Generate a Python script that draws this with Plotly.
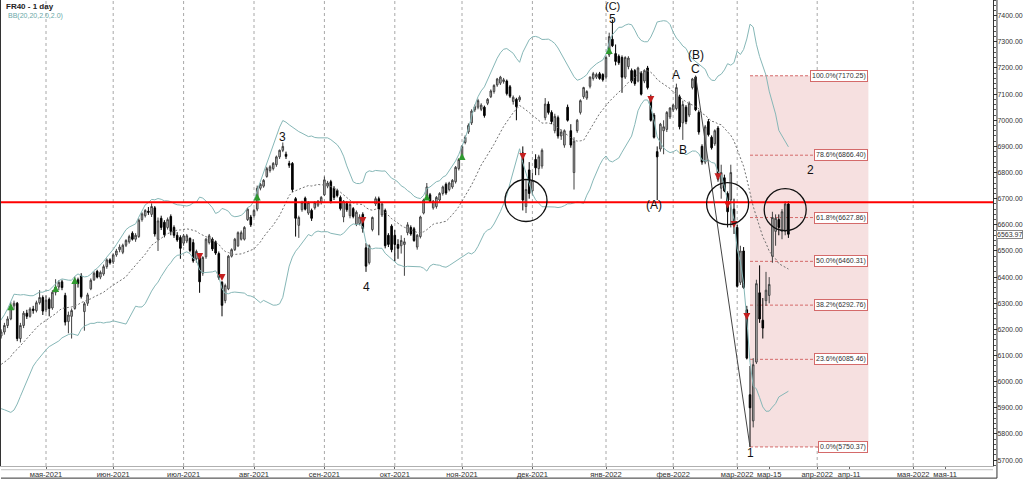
import numpy as np
import pandas as pd
import plotly.graph_objects as go

# ---------------- data ----------------
dates = pd.bdate_range("2021-04-12", "2022-03-23")

opens = [
 6190,6175,6190,6215,6240,6290,6300,6165,6215,6262,
 6250,6278,6272,6302,6322,6275,6315,6282,6342,6362,
 6382,6330,6230,6250,6280,6390,6405,6268,6300,6355,
 6390,6422,6400,6412,6440,6466,6458,6485,6505,6495,
 6522,6535,6568,6545,6555,6620,6635,6652,6640,6665,
 6545,6625,6610,6590,6632,6590,6560,6552,6530,6538,
 6548,6532,6470,6475,6415,6478,6532,6545,6535,6490,
 6380,6310,6355,6480,6505,6520,6545,6545,6620,6630,
 6635,6660,6740,6748,6785,6808,6815,6830,6860,6885,
 6870,6835,6835,6700,6598,6658,6702,6645,6655,6665,
 6675,6685,6715,6748,6765,6740,6730,6705,6630,6682,
 6635,6662,6602,6605,6640,6512,6455,6582,6680,6700,
 6638,6655,6560,6595,6560,6525,6520,6525,6570,6590,
 6585,6515,6555,6645,6710,6715,6665,6670,6695,6720,
 6755,6735,6745,6765,6815,6860,6915,6955,6990,7040,
 7050,7042,7050,7065,7090,7110,7135,7142,7148,7150,
 7128,7072,7080,7078,6875,6670,6810,6730,6850,6815,
 6825,7010,7062,7030,6960,7010,6940,6905,7050,6960,
 6800,6960,7030,7090,7085,7130,7160,7165,7178,7175,
 7165,7250,7310,7255,7245,7240,7165,7205,7190,7190,
 7150,7180,7150,7200,7090,7020,6880,6890,6960,6965,
 7013,7040,7045,7090,6990,7050,7020,7125,7165,7030,
 6900,6840,6995,6935,6910,6970,6740,6780,6720,6695,
 6660,6590,6380,6500,6275,5950,5850,6075,6340,6235,
 6310,6330,6480,6575,6620,6575,6575,6680]

highs = [
 6205,6200,6225,6250,6305,6310,6305,6225,6270,6275,
 6285,6290,6310,6350,6330,6330,6322,6350,6392,6388,
 6390,6340,6268,6280,6402,6398,6415,6305,6340,6395,
 6422,6428,6425,6448,6472,6472,6490,6508,6525,6528,
 6545,6562,6575,6568,6625,6648,6660,6668,6682,6672,
 6628,6635,6618,6628,6640,6598,6572,6560,6565,6565,
 6552,6545,6505,6480,6480,6550,6565,6552,6540,6498,
 6385,6375,6485,6510,6550,6575,6578,6595,6665,6638,
 6662,6750,6760,6775,6822,6828,6840,6865,6888,6915,
 6880,6845,6840,6706,6635,6692,6708,6690,6662,6690,
 6695,6710,6785,6768,6772,6748,6738,6712,6695,6690,
 6685,6668,6655,6640,6648,6530,6525,6632,6708,6708,
 6685,6662,6568,6602,6580,6545,6560,6550,6610,6598,
 6592,6565,6635,6700,6760,6722,6695,6710,6725,6750,
 6762,6765,6775,6825,6855,6905,6942,6988,7042,7060,
 7082,7065,7056,7085,7118,7138,7162,7170,7162,7156,
 7135,7095,7086,7095,6900,6775,6840,6800,6870,6868,
 6892,7085,7072,7038,7025,7018,6965,6965,7060,6985,
 6935,7005,7080,7128,7115,7168,7185,7182,7185,7180,
 7245,7335,7385,7290,7252,7248,7245,7245,7198,7196,
 7205,7188,7195,7208,7098,7028,6900,6990,7000,7035,
 7050,7062,7140,7098,7075,7058,7072,7162,7170.25,7038,
 6908,6982,7005,6942,6965,6978,6830,6792,6728,6830,
 6700,6600,6520,6515,6290,6060,6090,6390,6445,6320,
 6420,6400,6650,6640,6640,6660,6690,6690]

lows = [
 6160,6165,6180,6205,6235,6275,6155,6150,6205,6240,
 6245,6260,6265,6295,6255,6265,6250,6275,6330,6350,
 6350,6215,6185,6165,6275,6360,6318,6195,6290,6350,
 6385,6395,6392,6405,6432,6448,6450,6478,6495,6488,
 6515,6528,6540,6535,6550,6612,6628,6638,6630,6555,
 6500,6580,6552,6582,6560,6550,6535,6470,6520,6530,
 6495,6455,6455,6340,6405,6470,6525,6500,6485,6390,
 6250,6300,6350,6475,6500,6515,6540,6540,6615,6592,
 6628,6652,6732,6742,6780,6800,6808,6822,6852,6878,
 6852,6818,6725,6555,6550,6650,6655,6638,6615,6658,
 6668,6678,6710,6740,6682,6695,6705,6655,6610,6650,
 6625,6625,6595,6598,6570,6420,6448,6575,6672,6560,
 6630,6510,6515,6495,6460,6470,6490,6405,6560,6558,
 6535,6505,6548,6640,6705,6685,6658,6662,6688,6712,
 6715,6728,6738,6758,6808,6852,6908,6948,6982,7032,
 7042,7035,7010,7058,7085,7102,7128,7135,7140,7095,
 7085,7060,7000,7070,6655,6645,6700,6715,6790,6790,
 6815,7000,7022,6985,6950,6930,6925,6895,6995,6895,
 6735,6952,7022,7082,7078,7122,7152,7158,7155,7148,
 7158,7242,7280,7210,7212,7105,7158,7195,7142,7132,
 7145,7095,7142,7118,6995,6930,6695,6880,6870,6955,
 7005,7032,7038,6965,6925,6985,7012,7118,7035,6945,
 6830,6832,6938,6888,6902,6765,6700,6725,6590,6590,
 6565,6360,6370,6355,6085,5750.37,5825,6068,6225,6165,
 6290,6300,6455,6520,6560,6545,6560,6550]

closes = [
 6175,6190,6215,6240,6290,6300,6165,6215,6262,6250,
 6278,6272,6302,6322,6270,6312,6280,6342,6362,6380,
 6360,6228,6255,6272,6390,6375,6325,6298,6332,6388,
 6415,6400,6418,6440,6466,6455,6485,6500,6515,6522,
 6540,6555,6545,6560,6618,6642,6655,6648,6670,6565,
 6615,6590,6562,6620,6575,6560,6542,6510,6558,6558,
 6502,6462,6498,6382,6475,6545,6558,6508,6492,6398,
 6292,6368,6480,6505,6545,6570,6570,6590,6660,6600,
 6655,6740,6755,6770,6815,6822,6835,6860,6885,6900,
 6862,6828,6735,6625,6628,6685,6660,6685,6625,6685,
 6690,6705,6772,6760,6690,6705,6712,6662,6690,6658,
 6678,6632,6648,6630,6585,6442,6520,6628,6700,6660,
 6680,6520,6525,6505,6525,6510,6540,6535,6600,6565,
 6540,6560,6630,6695,6745,6690,6690,6705,6720,6745,
 6722,6760,6770,6820,6850,6900,6935,6980,7035,7052,
 7075,7058,7018,7080,7112,7133,7158,7165,7155,7102,
 7092,7088,7052,7088,6695,6735,6720,6770,6818,6860,
 6885,7062,7030,6995,7015,6940,6955,6960,7000,6905,
 6920,7000,7075,7125,7110,7165,7178,7175,7160,7155,
 7240,7320,7285,7225,7220,7165,7240,7238,7150,7140,
 7200,7100,7190,7125,7000,6935,6860,6985,6975,7030,
 7047,7058,7125,6975,7060,6995,7065,7158,7040,6955,
 6840,6975,6945,6895,6960,6775,6800,6730,6650,6800,
 6610,6365,6500,6360,6090,5900,6065,6375,6240,6205,
 6350,6372,6628,6625,6590,6650,6680,6563.97]

# closes before the first visible bar (needed by the 20-bar Bollinger window)
closes_before = [6010,6060,6050,6045,5960,5950,5935,5945,5965,5990,
                 6035,6065,6080,6110,6130,6150,6165,6170,6160]

N = len(dates)
assert len(opens) == len(highs) == len(lows) == len(closes) == N

month_starts = ["2021-05-01","2021-06-01","2021-07-01","2021-08-01","2021-09-01",
                "2021-10-01","2021-11-01","2021-12-01","2022-01-01","2022-02-01",
                "2022-03-01","2022-04-01","2022-05-01"]
month_labels = ["мая-2021","июн-2021","июл-2021","авг-2021","сен-2021","окт-2021",
                "ноя-2021","дек-2021","янв-2022","фев-2022","мар-2022","апр-2022","мая-2022"]
mid_ticks = ["2022-03-15","2022-04-11","2022-05-11"]
mid_labels = ["мар-15","апр-11","мая-11"]

green_dates = ["2021-04-16","2021-05-06","2021-05-14","2021-08-03","2021-10-15","2021-11-01","2022-01-04"]
green_prices = [6300,6370,6400,6720,6720,6875,7280]
red_dates = ["2021-07-08","2021-07-19","2021-09-17","2021-11-26","2022-01-21",
             "2022-02-21","2022-02-24","2022-02-28","2022-03-04"]
red_prices = [6465,6385,6603,6848,7066,6771,6662,6588,6236]

wave_texts = ["(C)","5","3","4","(A)","A","B","(B)","C","1","2"]
wave_dates = ["2022-01-05","2022-01-05","2021-08-13","2021-09-20","2022-01-24","2022-02-02",
              "2022-02-04","2022-02-10","2022-02-10","2022-03-07","2022-03-30"]
wave_prices = [7437,7389,6935,6363,6676,7173,6886,7248,7196,5726,6810]
wave_sizes = [11,12,12,12,12,12,12,12,12,12,12]

circle_dates = ["2021-11-29","2022-02-24","2022-03-22"]
circle_prices = [6693,6681,6658]

resistance = 6686
fib_high, fib_low = 7170.25, 5750.37
fib_pcts = [100.0, 78.6, 61.8, 50.0, 38.2, 23.6, 0.0]
fib_start, fib_end = "2022-03-07", "2022-04-17"
trend_from = ("2022-02-10", 7170.25)
trend_to = ("2022-03-07", 5750.37)
last_price = closes[-1]

# ---------------- helpers ----------------
def xpos(d):
    d = pd.Timestamp(d)
    if d <= dates[-1]:
        return int(dates.searchsorted(d))
    return (N - 1) + (d - dates[-1]).days

FONT = "Liberation Sans, Arial"
x = np.arange(N)
allc = pd.Series(closes_before + closes, dtype=float)
mid = allc.rolling(20).mean().iloc[len(closes_before):].to_numpy()
sd = allc.rolling(20).std(ddof=0).iloc[len(closes_before):].to_numpy()
upper, lower = mid + 2 * sd, mid - 2 * sd

fig = go.Figure()
fig.add_trace(go.Scatter(x=x, y=upper, mode="lines", line=dict(color="#86b7b7", width=1), hoverinfo="skip"))
fig.add_trace(go.Scatter(x=x, y=lower, mode="lines", line=dict(color="#86b7b7", width=1), hoverinfo="skip"))
fig.add_trace(go.Scatter(x=x, y=mid, mode="lines", line=dict(color="#707070", width=1, dash="2px,2px"), hoverinfo="skip"))
fig.add_trace(go.Candlestick(
    x=x, open=opens, high=highs, low=lows, close=closes,
    increasing=dict(line=dict(color="#404040", width=1), fillcolor="#cfcfcf"),
    decreasing=dict(line=dict(color="#000000", width=1), fillcolor="#000000"),
    whiskerwidth=0, hoverinfo="skip"))
fig.add_trace(go.Scatter(x=[xpos(d) for d in green_dates], y=green_prices, mode="markers",
                         marker=dict(symbol="arrow-up", size=7, color="#2f9a2f"), hoverinfo="skip"))
fig.add_trace(go.Scatter(x=[xpos(d) for d in red_dates], y=red_prices, mode="markers",
                         marker=dict(symbol="arrow-down", size=7, color="#c42020"), hoverinfo="skip"))

shapes = []
shapes.append(dict(type="rect", xref="x", yref="y", x0=xpos(fib_start), x1=xpos(fib_end),
                   y0=fib_low, y1=fib_high, fillcolor="#f6e0e0", line=dict(width=0), layer="below"))
for m in month_starts:
    p = xpos(m)
    shapes.append(dict(type="line", xref="x", yref="paper", x0=p, x1=p, y0=0, y1=1,
                       line=dict(color="#a8a8a8", width=1, dash="3px,3px"), layer="below"))
annotations = []
for pct in fib_pcts:
    lvl = fib_low + pct / 100 * (fib_high - fib_low)
    shapes.append(dict(type="line", xref="x", yref="y", x0=xpos(fib_start), x1=xpos(fib_end),
                       y0=lvl, y1=lvl, line=dict(color="#d46a6a", width=1, dash="3px,2px"), layer="below"))
    annotations.append(dict(x=xpos(fib_end), y=lvl, xref="x", yref="y", xanchor="right", yanchor="middle",
                            text=f"{pct:.1f}%({lvl:.2f})", showarrow=False,
                            font=dict(size=7, color="#333333", family=FONT),
                            bgcolor="#ffffff", bordercolor="#d46a6a", borderwidth=1, borderpad=1))
shapes.append(dict(type="line", xref="paper", yref="y", x0=0, x1=1, y0=resistance, y1=resistance,
                   line=dict(color="#ff0000", width=2)))
shapes.append(dict(type="line", xref="x", yref="y", x0=xpos(trend_from[0]), y0=trend_from[1],
                   x1=xpos(trend_to[0]), y1=trend_to[1], line=dict(color="#444444", width=1)))
for d, p in zip(circle_dates, circle_prices):
    shapes.append(dict(type="circle", xref="x", yref="y", xsizemode="pixel", ysizemode="pixel",
                       xanchor=xpos(d), yanchor=p, x0=-21, x1=21, y0=-21, y1=21,
                       line=dict(color="#111111", width=1.3)))
shapes.append(dict(type="line", xref="paper", yref="paper", x0=0, x1=1, y0=-0.008, y1=-0.008,
                   line=dict(color="#c0c0c0", width=1)))
shapes.append(dict(type="line", xref="paper", yref="paper", x0=0, x1=1.004, y0=-0.026, y1=-0.026,
                   line=dict(color="#333333", width=1)))
shapes.append(dict(type="line", xref="paper", yref="paper", x0=1.004, x1=1.004, y0=-0.026, y1=1,
                   line=dict(color="#333333", width=1)))

for t, d, p, s in zip(wave_texts, wave_dates, wave_prices, wave_sizes):
    annotations.append(dict(x=xpos(d), y=p, xref="x", yref="y", text=t, showarrow=False,
                            font=dict(size=s, color="#111111", family=FONT)))

annotations.append(dict(x=0.003, y=1 - 6 / 466, xref="paper", yref="paper", xanchor="left", yanchor="middle",
                        text="<b>FR40 - 1 day</b>", showarrow=False,
                        font=dict(size=8, color="#222222", family=FONT)))
annotations.append(dict(x=0.005, y=1 - 16 / 466, xref="paper", yref="paper", xanchor="left", yanchor="middle",
                        text="BB(20,20,2.0,2.0)", showarrow=False,
                        font=dict(size=7, color="#6aa8a8", family=FONT)))
annotations.append(dict(x=1.0035, y=last_price, xref="paper", yref="y", xanchor="left", yanchor="middle",
                        text=f"{last_price:.2f}", showarrow=False,
                        font=dict(size=7, color="#333333", family=FONT),
                        bgcolor="#ffffff", bordercolor="#888888", borderwidth=1, borderpad=0))

tickvals = [xpos(m) for m in month_starts] + [xpos(d) for d in mid_ticks]
ticktext = month_labels + mid_labels

fig.update_layout(
    width=1024, height=479, margin=dict(l=1, r=31, t=0, b=13, autoexpand=False),
    paper_bgcolor="white", plot_bgcolor="white", showlegend=False, hovermode=False,
    shapes=shapes, annotations=annotations,
    xaxis=dict(range=[(1 + 2) / 3.2, (993 + 2) / 3.2], tickvals=tickvals, ticktext=ticktext,
               showgrid=False, zeroline=False, showline=True, linecolor="#b0b0b0", linewidth=1,
               ticks="outside", ticklen=2, tickcolor="#666666", ticklabelstandoff=-1,
               tickfont=dict(size=7.5, color="#333333", family=FONT),
               rangeslider=dict(visible=False)),
    yaxis=dict(side="right", range=[5677.4, 7460.1], tickvals=list(range(5700, 7401, 100)),
               tickformat=".2f", showgrid=False, zeroline=False, showline=True, mirror=True,
               linecolor="#333333", linewidth=1, ticks="outside", ticklen=3, tickcolor="#333333",
               ticklabelstandoff=-1,
               minor=dict(dtick=20, ticks="outside", ticklen=2, tickcolor="#555555"),
               tickfont=dict(size=7, color="#333333", family=FONT)),
)

fig.write_html("out.html", config={"displayModeBar": False, "staticPlot": True},
               post_script="document.body.style.margin='0px';document.body.style.overflow='hidden';")
